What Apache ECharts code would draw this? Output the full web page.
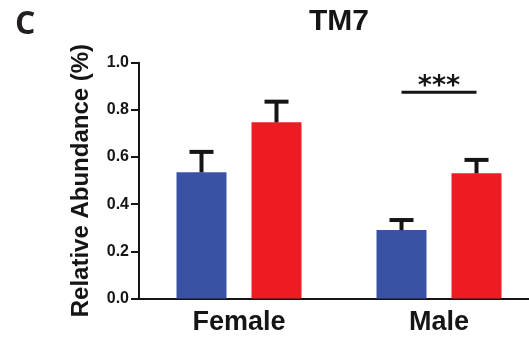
<!DOCTYPE html>
<html>
<head>
<meta charset="utf-8">
<script src="https://cdn.jsdelivr.net/npm/echarts@6/dist/echarts.min.js"></script>
<style>
  html, body { margin: 0; padding: 0; background: #fff; }
  #chart { width: 529px; height: 337px; }
</style>
</head>
<body>
<div id="chart"></div>
<script>
// Relative abundance of TM7 by sex, two groups per sex (mean + upper SEM)
const categories = ['Female', 'Male'];
const blueMeans = [0.535, 0.29];
const blueUpper = [0.626, 0.337];
const redMeans = [0.747, 0.531];
const redUpper = [0.839, 0.592];
const yTickValues = [0, 0.2, 0.4, 0.6, 0.8, 1.0];

// significance bracket over the Male pair
const sigCategory = 1;
const sigLevel = 0.875;
const sigText = '***';

const BLUE = '#3a52a3';
const RED = '#ed1c24';
const INK = '#151515';
const BAR_WIDTH = 50;
const BAR_GAP = 25;
const HALF_PAIR = (BAR_WIDTH + BAR_GAP) / 2;
const FONT = '"Liberation Sans", Arial, sans-serif';

const chart = echarts.init(document.getElementById('chart'), null, { renderer: 'canvas' });

function errorBarSeries(means, upper, dx) {
  return {
    type: 'custom',
    z: 5,
    data: means.map((m, i) => [i, m, upper[i]]),
    renderItem: function (params, api) {
      const top = api.coord([api.value(0), api.value(2)]);
      const base = api.coord([api.value(0), api.value(1)]);
      const x = top[0] + dx;
      return {
        type: 'group',
        children: [
          { type: 'line', shape: { x1: x, y1: base[1], x2: x, y2: top[1] },
            style: { stroke: INK, lineWidth: 4 } },
          { type: 'line', shape: { x1: x - 12, y1: top[1] + 1, x2: x + 12, y2: top[1] + 1 },
            style: { stroke: INK, lineWidth: 4 } }
        ]
      };
    }
  };
}

const option = {
  animation: false,
  backgroundColor: '#ffffff',
  title: [
    { text: 'TM7', left: 304, top: 2,
      textStyle: { fontFamily: FONT, fontWeight: 'bold', fontSize: 30, color: INK } },
    { text: 'C', left: 10, top: 4,
      textStyle: { fontFamily: '"Open Sans", sans-serif', fontWeight: 'bold', fontSize: 32, color: '#231f20' } }
  ],
  grid: { left: 139, width: 400, top: 62.7, height: 235.8, containLabel: false, outerBoundsMode: 'none' },
  xAxis: {
    type: 'category',
    data: categories,
    boundaryGap: true,
    axisLine: { lineStyle: { color: INK, width: 2 } },
    axisTick: { alignWithLabel: true, inside: false, length: 5, lineStyle: { color: INK, width: 2 } },
    axisLabel: { margin: 11, fontFamily: FONT, fontWeight: 'bold', fontSize: 27, color: INK }
  },
  yAxis: {
    type: 'value',
    min: 0, max: 1, interval: 0.2,
    name: 'Relative Abundance (%)',
    nameLocation: 'middle',
    nameGap: 46,
    nameTextStyle: { fontFamily: FONT, fontWeight: 'bold', fontSize: 24, color: INK },
    splitLine: { show: false },
    axisLine: { show: true, lineStyle: { color: INK, width: 2 } },
    axisTick: { show: true, inside: false, length: 8, lineStyle: { color: INK, width: 2 } },
    axisLabel: {
      inside: false, margin: 10, fontFamily: FONT, fontWeight: 'bold', fontSize: 16, color: INK,
      formatter: v => yTickValues.some(t => Math.abs(t - v) < 1e-9) ? v.toFixed(1) : ''
    }
  },
  series: [
    { type: 'bar', data: blueMeans, barWidth: BAR_WIDTH, barGap: (BAR_GAP / BAR_WIDTH * 100) + '%',
      itemStyle: { color: BLUE }, z: 2 },
    { type: 'bar', data: redMeans, barWidth: BAR_WIDTH,
      itemStyle: { color: RED }, z: 2 },
    errorBarSeries(blueMeans, blueUpper, -HALF_PAIR),
    errorBarSeries(redMeans, redUpper, HALF_PAIR),
    {
      type: 'custom',
      z: 6,
      data: [[sigCategory, sigLevel]],
      renderItem: function (params, api) {
        const p = api.coord([api.value(0), api.value(1)]);
        return {
          type: 'group',
          children: [
            { type: 'line', shape: { x1: p[0] - HALF_PAIR, y1: p[1], x2: p[0] + HALF_PAIR, y2: p[1] },
              style: { stroke: INK, lineWidth: 3 } },
            { type: 'text', x: p[0], y: p[1] + 8,
              style: { text: sigText, fill: INK, align: 'center', verticalAlign: 'bottom',
                font: 'bold 27px "DejaVu Sans", sans-serif' } }
          ]
        };
      }
    }
  ]
};

chart.setOption(option);
</script>
</body>
</html>
